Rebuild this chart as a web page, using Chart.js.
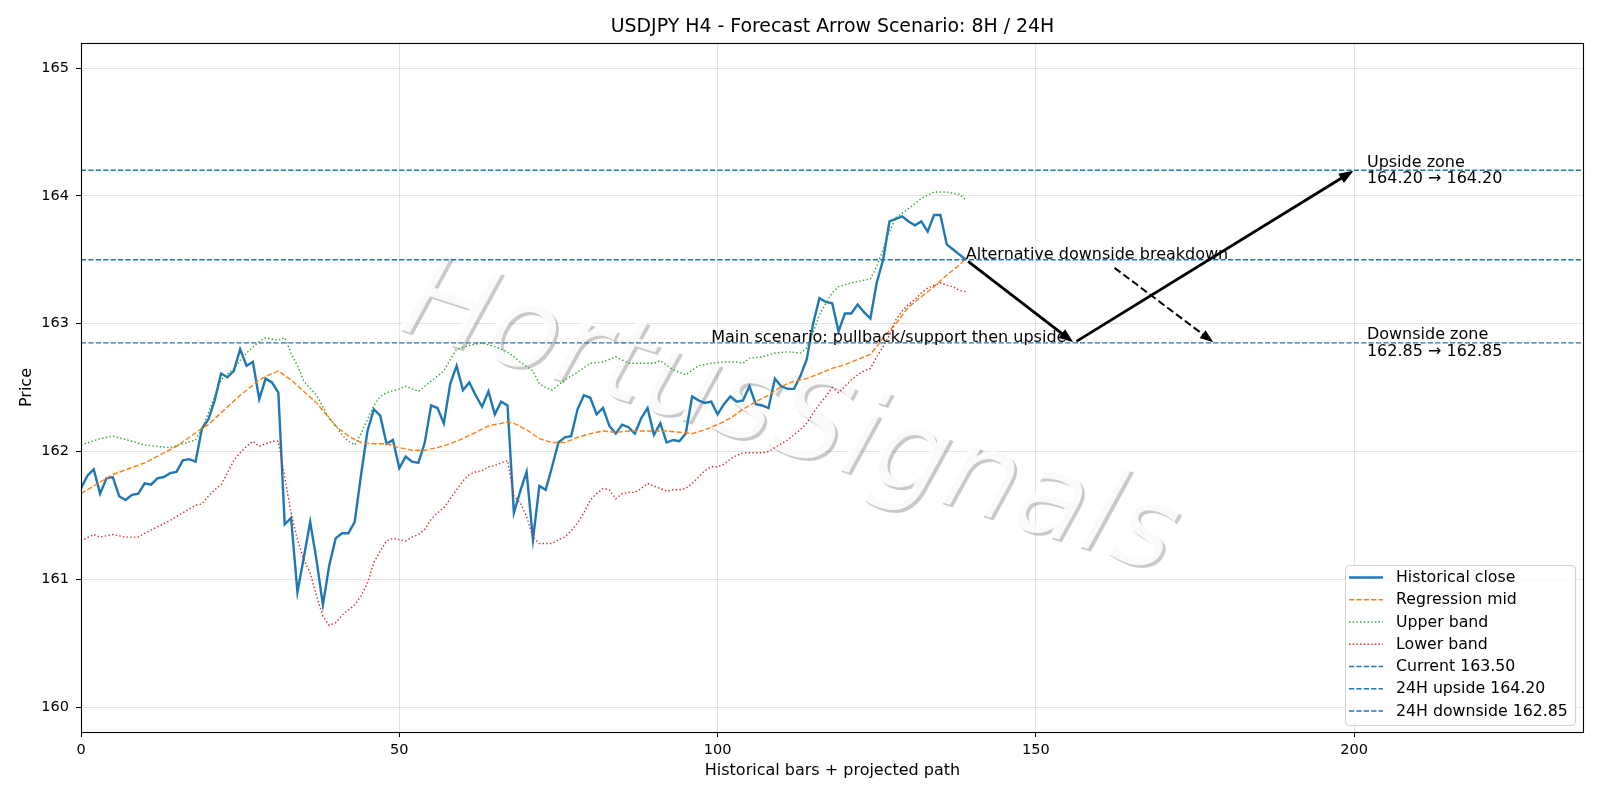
<!DOCTYPE html>
<html><head><meta charset="utf-8">
<script src="https://cdn.jsdelivr.net/npm/chart.js@4.4.1/dist/chart.umd.min.js"></script>
<style>html,body{margin:0;padding:0;background:#fff;}#wrap{width:1600px;height:800px;}</style>
</head><body><div id="wrap"><canvas id="c" width="1600" height="800"></canvas></div>
<script>
// ---- data ----
const closeValues = [161.71,161.81,161.86,161.67,161.79,161.80,161.65,161.62,161.66,161.67,
161.75,161.74,161.79,161.80,161.83,161.84,161.93,161.94,161.92,162.18,
162.25,162.40,162.61,162.58,162.63,162.80,162.67,162.70,162.41,162.57,
162.54,162.46,161.43,161.48,160.90,161.17,161.45,161.15,160.80,161.11,
161.32,161.36,161.36,161.45,161.82,162.16,162.33,162.28,162.06,162.09,
161.87,161.96,161.92,161.91,162.07,162.36,162.34,162.22,162.53,162.67,
162.48,162.54,162.44,162.35,162.47,162.29,162.39,162.36,161.52,161.69,
161.84,161.31,161.73,161.70,161.88,162.07,162.11,162.12,162.33,162.44,
162.42,162.29,162.34,162.20,162.14,162.21,162.19,162.14,162.26,162.34,
162.13,162.22,162.07,162.09,162.08,162.14,162.43,162.40,162.38,162.39,
162.29,162.37,162.43,162.39,162.40,162.51,162.37,162.36,162.34,162.57,
162.51,162.49,162.49,162.59,162.72,163.00,163.20,163.17,163.16,162.94,
163.08,163.08,163.15,163.09,163.04,163.32,163.50,163.80,163.82,163.84,
163.80,163.77,163.80,163.72,163.85,163.85,163.62,163.58,163.54,163.50];

const midBars = [0,5,10,15,19,20,25,28,30,31,33,35,37,39,40,42,44,46,48,50,52,54,56,58,60,62,64,66,67,68,70,72,74,76,78,80,82,84,86,88,90,92,94,96,98,100,102,104,106,108,110,112,114,116,118,120,122,124,125,126,128,130,132,134,136,138,139];
const midValues = [161.67,161.82,161.91,162.04,162.18,162.21,162.44,162.56,162.61,162.63,162.56,162.47,162.38,162.26,162.20,162.12,162.07,162.06,162.06,162.03,162.01,162.01,162.03,162.06,162.10,162.15,162.20,162.22,162.23,162.22,162.17,162.10,162.07,162.07,162.11,162.14,162.16,162.15,162.16,162.16,162.16,162.16,162.15,162.14,162.17,162.21,162.26,162.33,162.39,162.44,162.51,162.55,162.57,162.61,162.65,162.68,162.72,162.76,162.82,162.89,163.00,163.13,163.21,163.29,163.38,163.46,163.51];

const upperBars = [0,3,5,8,10,12,14,16,18,19,20,22,24,26,28,29,31,32,33,34,35,37,38,39,40,41,42,43,44,45,46,47,48,50,51,53,55,57,58,59,61,63,65,67,69,71,72,73,74,76,78,80,82,84,86,88,90,91,93,95,97,99,101,103,104,105,107,109,111,113,114,115,116,117,118,119,121,123,124,125,126,127,128,130,132,134,136,138,139];
const upperValues = [162.05,162.10,162.12,162.08,162.05,162.04,162.03,162.06,162.09,162.18,162.30,162.56,162.65,162.77,162.86,162.89,162.87,162.89,162.77,162.67,162.55,162.44,162.35,162.26,162.20,162.13,162.08,162.05,162.14,162.25,162.36,162.43,162.46,162.49,162.51,162.47,162.55,162.63,162.72,162.80,162.83,162.85,162.82,162.78,162.70,162.63,162.53,162.50,162.48,162.56,162.62,162.69,162.70,162.74,162.69,162.69,162.69,162.71,162.64,162.60,162.67,162.69,162.70,162.70,162.69,162.73,162.74,162.77,162.78,162.77,162.81,162.93,163.07,163.16,163.24,163.29,163.32,163.34,163.35,163.45,163.58,163.72,163.83,163.90,163.98,164.03,164.03,164.01,163.97];

const lowerBars = [0,2,3,5,7,9,10,12,14,16,18,19,20,21,22,23,24,25,26,27,28,29,30,31,32,33,34,35,36,37,38,39,40,41,42,43,44,45,46,47,48,49,50,51,52,53,54,55,56,57,58,59,60,61,62,63,64,65,66,67,68,69,70,71,72,73,74,75,76,77,78,79,80,81,82,83,84,85,86,87,88,89,90,91,92,93,94,95,96,97,98,99,100,101,102,103,104,105,106,107,108,109,110,111,112,113,114,115,116,117,118,119,120,121,122,123,124,125,126,127,128,129,130,131,132,133,134,135,136,137,138,139];
const lowerValues = [161.30,161.35,161.33,161.35,161.33,161.33,161.36,161.41,161.46,161.52,161.58,161.59,161.65,161.70,161.74,161.83,161.93,161.99,162.04,162.08,162.04,162.06,162.08,162.08,161.80,161.52,161.31,161.15,161.05,160.87,160.71,160.64,160.66,160.72,160.76,160.80,160.87,160.97,161.13,161.22,161.30,161.32,161.31,161.30,161.33,161.35,161.39,161.47,161.52,161.56,161.63,161.70,161.77,161.82,161.84,161.85,161.88,161.89,161.91,161.93,161.65,161.60,161.49,161.33,161.28,161.28,161.28,161.31,161.33,161.38,161.44,161.52,161.62,161.67,161.71,161.70,161.63,161.67,161.68,161.68,161.71,161.75,161.73,161.71,161.69,161.70,161.70,161.71,161.75,161.80,161.85,161.88,161.88,161.90,161.94,161.97,161.99,161.99,161.99,161.99,162.00,162.03,162.06,162.09,162.13,162.17,162.22,162.30,162.37,162.43,162.50,162.46,162.51,162.56,162.60,162.63,162.65,162.74,162.82,162.91,163.03,163.10,163.15,163.19,163.24,163.28,163.30,163.32,163.30,163.29,163.26,163.25];

const currentLevel = 163.50, upsideLevel = 164.20, downsideLevel = 162.85;
const levelLabels = ['Current 163.50','24H upside 164.20','24H downside 162.85'];
const xTicks = [0,50,100,150,200];
const yTicks = [160,161,162,163,164,165];
const xRange = [0, 236.1];
const yRange = [159.805, 165.196];

// scenario arrows (data coordinates)
const mainLeg1 = [[139,163.50],[156,162.85]];
const mainLeg2 = [[156,162.85],[200,164.20]];
const altLeg = [[162,163.45],[178,162.85]];
const texts = {
  title: 'USDJPY H4 - Forecast Arrow Scenario: 8H / 24H',
  xLabel: 'Historical bars + projected path',
  yLabel: 'Price',
  main: 'Main scenario: pullback/support then upside',
  alt: 'Alternative downside breakdown',
  up: ['Upside zone','164.20 \u2192 164.20'],
  down: ['Downside zone','162.85 \u2192 162.85'],
  watermark: 'HortusSignals'
};

const BLUE='#1f77b4', ORANGE='#ff7f0e', GREEN='#2ca02c', RED='#d62728';
const FONT='"DejaVu Sans", Verdana, sans-serif';
const pts = (xs, ys) => xs.map((x,i)=>({x:x, y:ys[i]}));
const hline = v => [{x:xRange[0],y:v},{x:xRange[1],y:v}];

const legendItems = [
  {label:'Historical close', color:BLUE, width:2.4, dash:[]},
  {label:'Regression mid', color:ORANGE, width:1.4, dash:[5.2,2.2]},
  {label:'Upper band', color:GREEN, width:1.4, dash:[1.4,2.3]},
  {label:'Lower band', color:RED, width:1.4, dash:[1.4,2.3]},
  {label:levelLabels[0], color:BLUE, width:1.4, dash:[5.2,2.2]},
  {label:levelLabels[1], color:BLUE, width:1.4, dash:[5.2,2.2]},
  {label:levelLabels[2], color:BLUE, width:1.4, dash:[5.2,2.2]}
];

function drawArrow(ctx, a, b, lw, dash, hl, hw){
  let [x1,y1]=a, [x2,y2]=b;
  const ang=Math.atan2(y2-y1,x2-x1), c=Math.cos(ang), s=Math.sin(ang), sh=2.8;
  x1+=c*sh; y1+=s*sh; x2-=c*sh; y2-=s*sh;
  const bx=x2-c*hl, by=y2-s*hl;
  ctx.save();
  ctx.strokeStyle='#000'; ctx.fillStyle='#000'; ctx.lineWidth=lw; ctx.lineCap='butt';
  ctx.setLineDash(dash);
  ctx.beginPath(); ctx.moveTo(x1,y1); ctx.lineTo(bx+c*2,by+s*2); ctx.stroke();
  ctx.setLineDash([]); ctx.lineJoin='miter'; ctx.lineWidth=1.2;
  ctx.beginPath(); ctx.moveTo(x2,y2); ctx.lineTo(bx-s*hw,by+c*hw); ctx.lineTo(bx+s*hw,by-c*hw); ctx.closePath();
  ctx.fill(); ctx.stroke();
  ctx.restore();
}

const decor = {
  id:'decor',
  beforeDatasetsDraw(chart){
    const ctx=chart.ctx, ca=chart.chartArea;
    ctx.save();
    ctx.beginPath(); ctx.rect(ca.left,ca.top,ca.right-ca.left,ca.bottom-ca.top); ctx.clip();
    ctx.font='italic 100px '+FONT;
    const w=ctx.measureText(texts.watermark).width;
    const size=100*805/w;
    ctx.font='italic '+size.toFixed(1)+'px '+FONT;
    ctx.textAlign='left'; ctx.textBaseline='alphabetic';
    const ox=396, oy=328, rot=17.7*Math.PI/180;
    // shadow
    ctx.save(); ctx.translate(ox+2.8,oy+2.8); ctx.rotate(rot);
    ctx.fillStyle='rgba(77,77,77,0.3)'; ctx.fillText(texts.watermark,0,0); ctx.restore();
    // text face
    ctx.save(); ctx.translate(ox,oy); ctx.rotate(rot);
    ctx.fillStyle='rgba(255,255,255,0.9)'; ctx.fillText(texts.watermark,0,0); ctx.restore();
    ctx.restore();
  },
  afterDatasetsDraw(chart){
    const ctx=chart.ctx, ca=chart.chartArea, sx=chart.scales.x, sy=chart.scales.y;
    const P=p=>[sx.getPixelForValue(p[0]), sy.getPixelForValue(p[1])];
    drawArrow(ctx,P(mainLeg1[0]),P(mainLeg1[1]),2.8,[],12,4.5);
    drawArrow(ctx,P(mainLeg2[0]),P(mainLeg2[1]),2.8,[],12,4.5);
    drawArrow(ctx,P(altLeg[0]),P(altLeg[1]),2.0,[7.5,3.5],11,4);
    ctx.save();
    ctx.fillStyle='#000'; ctx.font='16px '+FONT; ctx.textBaseline='alphabetic';
    ctx.textAlign='left';
    let p=P(mainLeg1[0]);
    ctx.fillText(texts.alt,p[0],p[1]-1);
    p=P([99,downsideLevel]);
    ctx.fillText(texts.main,p[0],p[1]-1);
    p=P([202,upsideLevel]);
    ctx.fillText(texts.up[0],p[0],p[1]-3.4); ctx.fillText(texts.up[1],p[0],p[1]+12.8);
    p=P([202,downsideLevel]);
    ctx.fillText(texts.down[0],p[0],p[1]-3.4); ctx.fillText(texts.down[1],p[0],p[1]+12.8);
    ctx.restore();
  },
  afterDraw(chart){
    const ctx=chart.ctx, ca=chart.chartArea;
    ctx.save();
    ctx.strokeStyle='#000'; ctx.lineWidth=1.1;
    ctx.strokeRect(ca.left+0.5,ca.top+0.5,ca.right-ca.left-1,ca.bottom-ca.top);
    ctx.fillStyle='#000'; ctx.textAlign='center'; ctx.textBaseline='middle';
    ctx.font='18.9px '+FONT;
    ctx.fillText(texts.title,(ca.left+ca.right)/2,27);
    ctx.font='16px '+FONT;
    ctx.fillText(texts.xLabel,(ca.left+ca.right)/2,770.5);
    ctx.save(); ctx.translate(26.5,(ca.top+ca.bottom)/2); ctx.rotate(-Math.PI/2);
    ctx.fillText(texts.yLabel,0,0); ctx.restore();
    // legend
    const L=1345, T=565, W=230, H=160;
    ctx.beginPath();
    if(ctx.roundRect) ctx.roundRect(L+0.5,T+0.5,W,H,4); else ctx.rect(L+0.5,T+0.5,W,H);
    ctx.fillStyle='rgba(255,255,255,0.8)'; ctx.fill();
    ctx.strokeStyle='#d0d0d0'; ctx.lineWidth=1; ctx.stroke();
    ctx.textAlign='left'; ctx.textBaseline='middle'; ctx.font='15.75px '+FONT;
    legendItems.forEach((it,i)=>{
      const y=577.5+i*22.25;
      ctx.save();
      ctx.strokeStyle=it.color; ctx.lineWidth=it.width; ctx.setLineDash(it.dash);
      ctx.beginPath(); ctx.moveTo(1349,y); ctx.lineTo(1383,y); ctx.stroke();
      ctx.restore();
      ctx.fillStyle='#000'; ctx.fillText(it.label,1396,y+0.5);
    });
    ctx.restore();
  }
};

const base = {pointRadius:0, pointHoverRadius:0, tension:0, fill:false};
new Chart(document.getElementById('c'), {
  type:'line',
  data:{datasets:[
    Object.assign({label:'Historical close', data:pts(closeValues.map((v,i)=>i), closeValues), borderColor:BLUE, borderWidth:2.4, order:7}, base),
    Object.assign({label:'Regression mid', data:pts(midBars, midValues), borderColor:ORANGE, borderWidth:1.4, borderDash:[5.2,2.2], order:6}, base),
    Object.assign({label:'Upper band', data:pts(upperBars, upperValues), borderColor:GREEN, borderWidth:1.4, borderDash:[1.4,2.3], order:5}, base),
    Object.assign({label:'Lower band', data:pts(lowerBars, lowerValues), borderColor:RED, borderWidth:1.4, borderDash:[1.4,2.3], order:4}, base),
    Object.assign({label:levelLabels[0], data:hline(currentLevel), borderColor:BLUE, borderWidth:1.4, borderDash:[5.2,2.2], order:3}, base),
    Object.assign({label:levelLabels[1], data:hline(upsideLevel), borderColor:BLUE, borderWidth:1.4, borderDash:[5.2,2.2], order:2}, base),
    Object.assign({label:levelLabels[2], data:hline(downsideLevel), borderColor:BLUE, borderWidth:1.4, borderDash:[5.2,2.2], order:1}, base)
  ]},
  options:{
    responsive:false, animation:false, devicePixelRatio:1,
    layout:{padding:{left:0,top:43,right:16,bottom:0}},
    plugins:{legend:{display:false}, title:{display:false}, tooltip:{enabled:false}},
    scales:{
      x:{type:'linear', min:xRange[0], max:xRange[1],
        afterBuildTicks:s=>{s.ticks=xTicks.map(v=>({value:v}));},
        afterFit:s=>{s.height=68;},
        grid:{color:'rgba(176,176,176,0.35)', lineWidth:1, drawTicks:true, tickLength:5, tickColor:'#000', tickWidth:1},
        border:{display:false},
        ticks:{font:{family:FONT,size:14.5}, color:'#000', padding:5, maxRotation:0, autoSkip:false, callback:v=>String(v)}
      },
      y:{type:'linear', min:yRange[0], max:yRange[1],
        afterBuildTicks:s=>{s.ticks=yTicks.map(v=>({value:v}));},
        afterFit:s=>{s.width=81;},
        grid:{color:'rgba(176,176,176,0.35)', lineWidth:1, drawTicks:true, tickLength:5, tickColor:'#000', tickWidth:1},
        border:{display:false},
        ticks:{font:{family:FONT,size:14.5}, color:'#000', padding:7, autoSkip:false, callback:v=>String(v)}
      }
    }
  },
  plugins:[decor]
});
</script></body></html>
